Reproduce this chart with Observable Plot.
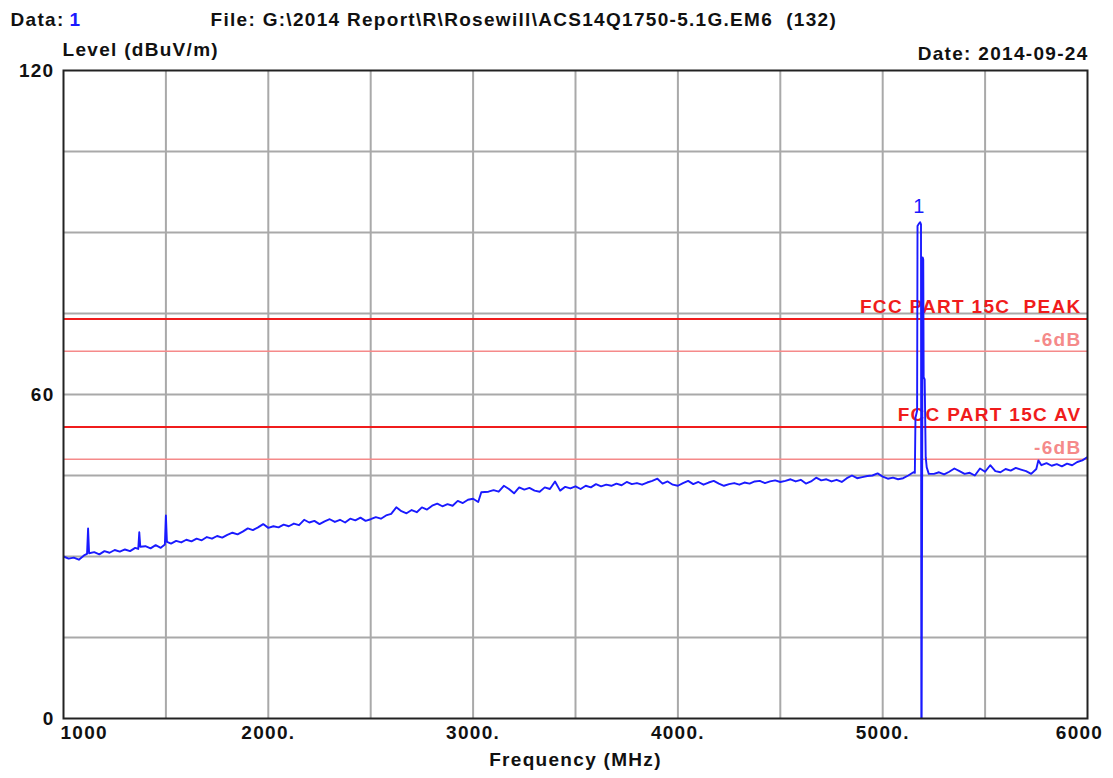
<!DOCTYPE html>
<html>
<head>
<meta charset="utf-8">
<script src="https://cdn.jsdelivr.net/npm/d3@7"></script>
<script src="https://cdn.jsdelivr.net/npm/@observablehq/plot@0.6"></script>
<style>
  html, body { margin: 0; padding: 0; background: #fff; }
</style>
</head>
<body>
<div id="chart"></div>
<script>
// ---- Trace (frequency in MHz, level in dBuV/m) ----
const traceFreq = [
  1000,1025,1050,1075,1100,1115,1120,1125,1150,1175,1200,1225,1250,1275,1300,1325,1350,1365,1370,1375,
  1400,1425,1450,1475,1495,1500,1505,1525,1550,1575,1600,1625,1650,1675,1700,1725,1750,1775,1800,1825,
  1850,1875,1900,1925,1950,1975,2000,2025,2050,2075,2100,2125,2150,2175,2200,2225,2250,2275,2300,2325,
  2350,2375,2400,2425,2450,2475,2500,2525,2550,2575,2600,2625,2650,2675,2700,2725,2750,2775,2800,2825,
  2850,2875,2900,2925,2950,2975,3000,3025,3040,3075,3100,3125,3150,3175,3200,3225,3250,3275,3300,3325,
  3350,3375,3400,3425,3450,3475,3500,3525,3550,3575,3600,3625,3650,3675,3700,3725,3750,3775,3800,3825,
  3850,3875,3900,3925,3950,3975,4000,4025,4050,4075,4100,4125,4150,4175,4200,4225,4250,4275,4300,4325,
  4350,4375,4400,4425,4450,4475,4500,4525,4550,4575,4600,4625,4650,4675,4700,4725,4750,4775,4800,4825,
  4850,4875,4900,4925,4950,4975,5000,5025,5050,5075,5100,5125,5150,5157,5160,5168,5170,5176,5183,5187,
  5189,5195,5198,5200,5205,5210,5215,5225,5250,5275,5300,5325,5350,5375,5400,5425,5450,5475,5500,5525,
  5550,5575,5600,5625,5650,5675,5700,5725,5750,5760,5775,5800,5825,5850,5875,5900,5925,5950,5975,6000
];
const traceLevel = [
  30.0,29.6,29.8,29.4,30.2,30.5,35.2,30.6,30.8,30.4,31.0,30.7,31.2,30.9,31.3,31.0,31.6,31.4,34.5,31.8,
  31.9,31.5,32.1,31.6,32.2,37.6,32.7,32.4,32.9,32.6,33.1,32.8,33.3,33.0,33.6,33.3,33.8,33.5,34.0,34.4,
  34.1,34.6,35.2,34.9,35.4,36.0,35.3,35.6,35.4,35.9,35.6,36.1,35.8,36.8,36.3,36.6,36.0,36.5,36.9,36.4,
  36.8,36.3,37.0,36.7,37.2,36.6,36.9,37.3,37.0,37.6,37.9,39.1,38.4,38.0,38.6,38.2,39.1,38.7,39.4,39.8,
  39.3,39.7,39.4,40.3,39.9,40.5,40.7,40.1,41.9,42.0,42.3,42.0,43.1,42.5,41.7,42.8,42.4,42.7,42.2,42.0,
  42.8,42.5,43.9,42.2,42.9,42.6,43.0,42.5,43.1,42.8,43.4,43.0,43.3,43.1,43.5,43.2,43.8,43.4,43.6,43.3,
  43.7,44.0,44.4,43.5,43.9,43.3,43.1,43.6,44.0,43.4,43.8,43.3,43.7,44.0,43.5,43.1,43.4,43.6,43.3,43.7,
  43.5,43.9,44.0,43.6,43.9,44.1,43.8,44.0,44.3,43.9,44.2,43.5,43.9,44.6,44.1,44.3,43.9,44.2,43.8,44.5,
  45.0,44.5,44.7,44.9,45.0,45.4,44.8,44.4,44.6,44.3,44.5,45.0,45.6,45.5,55.7,57.0,91.2,91.6,91.9,91.5,
  -20,85.4,85.0,63.2,62.8,48.4,46.5,45.3,45.3,45.6,45.2,45.7,46.3,45.8,45.3,45.5,45.0,46.3,45.7,46.9,
  45.8,45.6,46.2,45.9,46.4,46.1,45.8,45.3,46.2,47.8,46.9,47.3,46.8,47.1,46.7,47.2,46.9,47.5,47.8,48.4
];

// ---- Limit lines ----
const limitLevels = [74, 68, 54, 48];
const limitLabels = ["FCC PART 15C  PEAK", "-6dB", "FCC PART 15C AV", "-6dB"];
const limitKinds  = ["limit", "margin", "limit", "margin"];

// ---- Marker ----
const markerFreq = [5180];
const markerLevel = [91.9];
const markerLabel = ["1"];

// ---- Axes / grid ----
const xTickValues = [1000, 2000, 3000, 4000, 5000, 6000];
const xTickLabels = ["1000", "2000.", "3000.", "4000.", "5000.", "6000"];
const xGridValues = [1500, 2000, 2500, 3000, 3500, 4000, 4500, 5000, 5500];
const yTickValues = [0, 60, 120];
const yTickLabels = ["0", "60", "120"];
const yGridValues = [15, 30, 45, 60, 75, 90, 105];

// ---- Header texts ----
const dataLabel = "Data:";
const dataValue = "1";
const fileLabel = "File: G:\\2014 Report\\R\\Rosewill\\ACS14Q1750-5.1G.EM6  (132)";
const yAxisTitle = "Level (dBuV/m)";
const dateLabel = "Date: 2014-09-24";
const xAxisTitle = "Frequency (MHz)";

// ---- Build tables ----
const trace = traceFreq.map((f, i) => ({f, v: traceLevel[i]}));
const limits = limitLevels.map((v, i) => ({v, label: limitLabels[i], kind: limitKinds[i]}));
const marker = markerFreq.map((f, i) => ({f, v: markerLevel[i], label: markerLabel[i]}));
const xTicks = xTickValues.map((f, i) => ({f, label: xTickLabels[i]}));
const yTicks = yTickValues.map((v, i) => ({v, label: yTickLabels[i]}));

const FONT = "'Liberation Sans', Arial, sans-serif";
const FS = 19;
const RED = "#f01c1c";
const PINK = "#f58a8a";
const BLUE = "#1a1aff";
const INK = "#111";

const chart = Plot.plot({
  width: 1113,
  height: 778,
  marginTop: 70,
  marginBottom: 60,
  marginLeft: 63,
  marginRight: 26,
  x: {domain: [1000, 6000], axis: null},
  y: {domain: [0, 120], axis: null},
  style: {fontFamily: FONT, background: "#fff", overflow: "visible", letterSpacing: "1.3px"},
  marks: [
    // grid
    Plot.ruleX(xGridValues, {stroke: "#a9a9a9", strokeWidth: 2, strokeOpacity: 1}),
    Plot.ruleY(yGridValues, {stroke: "#a9a9a9", strokeWidth: 2, strokeOpacity: 1}),
    // limit lines
    Plot.ruleY(limits.filter(d => d.kind === "limit"), {y: "v", stroke: RED, strokeWidth: 2}),
    Plot.ruleY(limits.filter(d => d.kind === "margin"), {y: "v", stroke: PINK, strokeWidth: 1.6}),
    Plot.text(limits.filter(d => d.kind === "limit"), {
      y: "v", text: "label", frameAnchor: "right", textAnchor: "end", lineAnchor: "bottom",
      dx: -6, dy: -6, fill: RED, fontSize: FS, fontWeight: "bold"
    }),
    Plot.text(limits.filter(d => d.kind === "margin"), {
      y: "v", text: "label", frameAnchor: "right", textAnchor: "end", lineAnchor: "bottom",
      dx: -6, dy: -5, fill: PINK, fontSize: FS, fontWeight: "bold"
    }),
    // trace
    Plot.line(trace, {x: "f", y: "v", stroke: BLUE, strokeWidth: 1.9, clip: true}),
    // marker
    Plot.text(marker, {x: "f", y: "v", text: "label", fill: BLUE, fontSize: FS + 1, dy: -16}),
    // frame
    Plot.frame({stroke: "#222", strokeWidth: 2}),
    // y tick labels
    Plot.text(yTicks, {y: "v", text: "label", frameAnchor: "left", textAnchor: "end", dx: -9,
      fontSize: FS, fontWeight: "bold", fill: INK}),
    // x tick labels
    Plot.text(xTicks.slice(0, 1), {x: "f", text: "label", frameAnchor: "bottom", textAnchor: "start",
      dx: -3, dy: 20, fontSize: FS, fontWeight: "bold", fill: INK}),
    Plot.text(xTicks.slice(1, -1), {x: "f", text: "label", frameAnchor: "bottom", textAnchor: "middle",
      dy: 20, fontSize: FS, fontWeight: "bold", fill: INK}),
    Plot.text(xTicks.slice(-1), {x: "f", text: "label", frameAnchor: "bottom", textAnchor: "middle",
      dx: -8, dy: 20, fontSize: FS, fontWeight: "bold", fill: INK}),
    // axis titles & header
    Plot.text([xAxisTitle], {frameAnchor: "bottom", dy: 47, fontSize: FS, fontWeight: "bold", fill: INK}),
    Plot.text([yAxisTitle], {frameAnchor: "top-left", textAnchor: "start", dx: -1, dy: -28,
      fontSize: FS, fontWeight: "bold", fill: INK}),
    Plot.text([dateLabel], {frameAnchor: "top-right", textAnchor: "end", dx: 1, dy: -24,
      fontSize: FS, fontWeight: "bold", fill: INK}),
    Plot.text([dataLabel], {frameAnchor: "top-left", textAnchor: "start", dx: -53, dy: -58,
      fontSize: FS, fontWeight: "bold", fill: INK}),
    Plot.text([dataValue], {frameAnchor: "top-left", textAnchor: "start", dx: 6, dy: -58,
      fontSize: FS, fontWeight: "bold", fill: BLUE}),
    Plot.text([fileLabel], {frameAnchor: "top-left", textAnchor: "start", dx: 147, dy: -58,
      fontSize: FS, fontWeight: "bold", fill: INK})
  ]
});

document.getElementById("chart").appendChild(chart);
</script>
</body>
</html>
